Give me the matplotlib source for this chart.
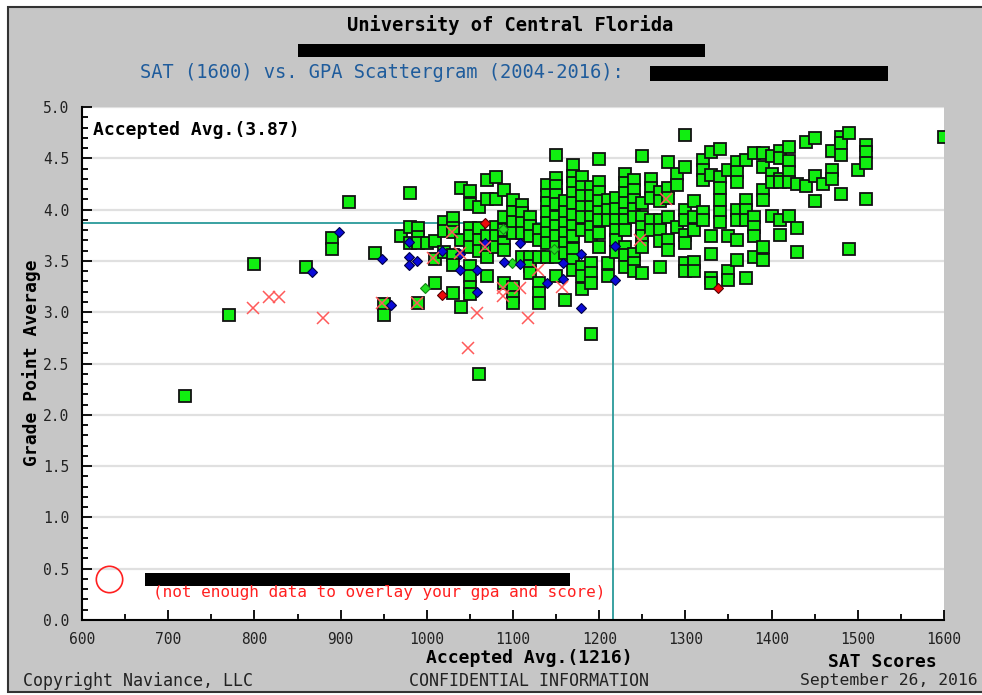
"""
Naviance-style SAT vs GPA scattergram, redrawn with matplotlib.
"""
import numpy as np
import matplotlib
matplotlib.use("Agg")
import matplotlib.pyplot as plt
from matplotlib.patches import Rectangle

MONO = "DejaVu Sans Mono"

# accepted averages
avg_sat = 1216
avg_gpa = 3.87

# green squares (accepted), GPA values per SAT column
green_by_sat = {
    720: [2.18], 770: [2.97], 800: [3.47], 860: [3.44], 890: [3.72, 3.62],
    910: [4.07], 940: [3.58], 950: [3.08, 2.97], 970: [3.74],
    980: [4.16, 3.83, 3.67], 990: [3.82, 3.73, 3.67, 3.09], 1000: [3.67],
    1010: [3.69, 3.52, 3.28], 1020: [3.88, 3.79, 3.59],
    1030: [3.92, 3.82, 3.78, 3.56, 3.46, 3.19], 1040: [4.21, 3.70, 3.05],
    1050: [4.18, 4.05, 3.82, 3.74, 3.64, 3.45, 3.35, 3.25, 3.18],
    1060: [4.03, 3.82, 3.70, 3.60, 2.40],
    1070: [4.29, 4.10, 3.74, 3.64, 3.54, 3.35],
    1080: [4.32, 4.10, 3.83, 3.74, 3.64],
    1090: [4.19, 3.93, 3.80, 3.67, 3.61, 3.28],
    1100: [4.09, 3.98, 3.88, 3.77, 3.25, 3.15, 3.09],
    1110: [4.04, 3.97, 3.87, 3.77, 3.54],
    1120: [3.93, 3.84, 3.74, 3.54, 3.45, 3.38],
    1130: [3.80, 3.70, 3.54, 3.28, 3.19, 3.09],
    1140: [4.24, 4.14, 4.06, 3.98, 3.87, 3.77, 3.67, 3.54],
    1150: [4.53, 4.31, 4.23, 4.14, 4.05, 3.93, 3.84, 3.74, 3.64, 3.54, 3.35],
    1160: [4.08, 3.98, 3.87, 3.77, 3.67, 3.58, 3.12],
    1170: [4.43, 4.33, 4.26, 4.16, 4.06, 3.95, 3.84, 3.74, 3.62, 3.51, 3.41],
    1180: [4.32, 4.22, 4.13, 4.03, 3.93, 3.80, 3.44, 3.35, 3.23],
    1190: [4.22, 4.13, 4.03, 3.93, 3.83, 3.74, 3.48, 3.38, 3.28, 2.79],
    1200: [4.49, 4.27, 4.17, 4.08, 3.98, 3.90, 3.77, 3.64],
    1210: [4.09, 4.00, 3.90, 3.48, 3.35],
    1220: [4.11, 4.01, 3.90, 3.80, 3.70, 3.59],
    1230: [4.35, 4.26, 4.16, 4.06, 3.96, 3.90, 3.80, 3.64, 3.56, 3.44],
    1240: [4.29, 4.19, 4.09, 4.01, 3.93, 3.57, 3.48, 3.40],
    1250: [4.52, 4.06, 3.93, 3.83, 3.74, 3.64, 3.38],
    1260: [4.30, 4.21, 4.11, 3.90, 3.80],
    1270: [4.17, 4.08, 3.90, 3.80, 3.69, 3.44],
    1280: [4.46, 4.21, 4.11, 3.93, 3.70, 3.61],
    1290: [4.35, 4.24, 3.83],
    1300: [4.73, 4.42, 4.00, 3.90, 3.75, 3.67, 3.48, 3.40],
    1310: [4.08, 3.93, 3.80, 3.49, 3.40],
    1320: [4.48, 4.39, 4.29, 3.98, 3.90],
    1330: [4.56, 4.34, 3.74, 3.57, 3.33, 3.28],
    1340: [4.59, 4.32, 4.21, 4.09, 3.98, 3.88],
    1350: [4.39, 3.74, 3.40, 3.31],
    1360: [4.46, 4.37, 4.27, 4.00, 3.90, 3.70, 3.51],
    1370: [4.48, 4.09, 4.00, 3.90, 3.33],
    1380: [4.55, 3.93, 3.83, 3.74, 3.54],
    1390: [4.55, 4.42, 4.19, 4.09, 3.64, 3.51],
    1400: [4.52, 4.35, 4.27, 3.94],
    1410: [4.57, 4.50, 4.30, 4.27, 3.90, 3.75],
    1420: [4.61, 4.47, 4.37, 4.27, 3.94],
    1430: [4.25, 3.82, 3.59], 1440: [4.66, 4.23], 1450: [4.70, 4.33, 4.08],
    1460: [4.25], 1470: [4.57, 4.39, 4.30], 1480: [4.71, 4.65, 4.53, 4.15],
    1490: [4.75, 3.62], 1500: [4.39], 1510: [4.63, 4.56, 4.45, 4.10],
    1600: [4.71],
}

# blue diamonds
blue_sat = [867, 898, 948, 958, 979, 979, 979, 989, 1018, 1039, 1039, 1058,
            1068, 1058, 1089, 1108, 1108, 1139, 1158, 1158, 1179, 1179, 1218, 1218]
blue_gpa = [3.39, 3.78, 3.52, 3.07, 3.68, 3.54, 3.46, 3.50, 3.60, 3.57, 3.41, 3.41,
            3.67, 3.20, 3.49, 3.67, 3.47, 3.28, 3.32, 3.48, 3.57, 3.04, 3.65, 3.31]

# green diamonds
gdiam_sat = [998, 1088, 1099, 1147]
gdiam_gpa = [3.24, 3.81, 3.48, 3.62]

# red diamonds
red_sat = [1018, 1068, 1338]
red_gpa = [3.17, 3.87, 3.24]

# red crosses
x_sat = [798, 817, 828, 880, 948, 989, 1007, 1029, 1038, 1048, 1058, 1068,
         1088, 1088, 1108, 1117, 1129, 1157, 1247, 1278]
x_gpa = [3.04, 3.15, 3.15, 2.94, 3.09, 3.09, 3.53, 3.78, 3.58, 2.65, 2.99, 3.64,
         3.24, 3.16, 3.24, 2.94, 3.41, 3.25, 3.70, 4.10]

green_sat = np.concatenate([[s] * len(g) for s, g in green_by_sat.items()])
green_gpa = np.concatenate(list(green_by_sat.values()))

W, H = 982, 695
fig = plt.figure(figsize=(W / 100, H / 100), dpi=100, facecolor="white")

# gray frame behind everything
fig.patches.append(Rectangle((8 / W, 3 / H), 1.0, (H - 10) / H, transform=fig.transFigure,
                             facecolor="#c6c6c6", edgecolor="#333333", linewidth=1.5,
                             zorder=-10))

ax = fig.add_axes([82 / W, 1 - 620 / H, 862 / W, 513 / H])
ax.set_facecolor("white")
ax.set_xlim(600, 1600)
ax.set_ylim(0, 5.0)

ax.set_xticks(np.arange(600, 1601, 100))
ax.set_xticks(np.arange(650, 1600, 100), minor=True)
ax.set_yticks(np.arange(0, 5.01, 0.5))
ax.set_yticks(np.arange(0, 5.01, 0.1), minor=True)
ax.set_yticklabels([f"{v:.1f}" for v in np.arange(0, 5.01, 0.5)])
ax.tick_params(axis="both", which="major", direction="in", length=7, width=1.3,
               labelsize=10.5, colors="black", pad=9)
ax.tick_params(axis="both", which="minor", direction="in", length=4, width=1.3)
for lab in ax.get_xticklabels() + ax.get_yticklabels():
    lab.set_fontfamily(MONO)
    lab.set_color("#222222")

for side in ["top", "right"]:
    ax.spines[side].set_visible(False)
for side in ["left", "bottom"]:
    ax.spines[side].set_linewidth(1.5)
    ax.spines[side].set_color("black")

ax.grid(axis="y", which="major", color="#e0e0e0", linewidth=1.6)
ax.set_axisbelow(True)

# average lines
ax.plot([600, avg_sat], [avg_gpa, avg_gpa], color="#2a9a9a", linewidth=1.3, zorder=2)
ax.plot([avg_sat, avg_sat], [0, avg_gpa], color="#2a9a9a", linewidth=1.3, zorder=2)

ax.plot(green_sat, green_gpa, "s", markersize=8.2, markerfacecolor="#11ee11",
        markeredgecolor="#111111", markeredgewidth=1.3, linestyle="none", zorder=3)
ax.plot(gdiam_sat, gdiam_gpa, "D", markersize=5.5, markerfacecolor="#22dd22",
        markeredgecolor="#118811", markeredgewidth=0.8, linestyle="none", zorder=4)
ax.plot(blue_sat, blue_gpa, "D", markersize=5.5, markerfacecolor="#0a0ad8",
        markeredgecolor="#000044", markeredgewidth=0.8, linestyle="none", zorder=4)
ax.plot(red_sat, red_gpa, "D", markersize=5.5, markerfacecolor="#ee0a0a",
        markeredgecolor="#550000", markeredgewidth=0.8, linestyle="none", zorder=4)
ax.plot(x_sat, x_gpa, "x", markersize=8.5, markeredgecolor="#ff5a5a",
        markeredgewidth=1.1, linestyle="none", zorder=5)

ax.text(11 / 862, (620 - 130) / 513, f"Accepted Avg.({avg_gpa:.2f})", transform=ax.transAxes,
        fontsize=13, fontweight="bold", family=MONO, va="center", ha="left")

# legend area (name redacted)
ax.plot([27 / 862], [(620 - 579) / 513], "o", markersize=19, markerfacecolor="none",
        markeredgecolor="#ff2020", markeredgewidth=1.2, transform=ax.transAxes,
        clip_on=False, zorder=6)
ax.add_patch(Rectangle((63 / 862, (620 - 586) / 513), 425 / 862, 13 / 513,
                       transform=ax.transAxes, facecolor="black", edgecolor="none", zorder=6))
ax.text(71 / 862, (620 - 592) / 513, "(not enough data to overlay your gpa and score)",
        transform=ax.transAxes, fontsize=11.5, family=MONO, color="#ff2020",
        va="center", ha="left", zorder=6)

# titles
fig.text(510 / W, 1 - 25 / H, "University of Central Florida", fontsize=13.5,
         fontweight="bold", family=MONO, ha="center", va="center")
fig.patches.append(Rectangle((298 / W, 1 - 57 / H), 407 / W, 13 / H, transform=fig.transFigure,
                             facecolor="black", edgecolor="none", zorder=3))
fig.text(140 / W, 1 - 73 / H, "SAT (1600) vs. GPA Scattergram (2004-2016):", fontsize=13.5,
         family=MONO, color="#1f5c9c", ha="left", va="center")
fig.patches.append(Rectangle((650 / W, 1 - 81 / H), 238 / W, 15 / H, transform=fig.transFigure,
                             facecolor="black", edgecolor="none", zorder=3))

fig.text(32 / W, 1 - 363 / H, "Grade Point Average", rotation=90, fontsize=13,
         fontweight="bold", family=MONO, ha="center", va="center")
fig.text(529 / W, 1 - 658 / H, f"Accepted Avg.({avg_sat})", fontsize=13,
         fontweight="bold", family=MONO, ha="center", va="center")
fig.text(882 / W, 1 - 662 / H, "SAT Scores", fontsize=13, fontweight="bold",
         family=MONO, ha="center", va="center")
fig.text(23 / W, 1 - 681 / H, "Copyright Naviance, LLC", fontsize=12, family=MONO,
         ha="left", va="center", color="#222222")
fig.text(529 / W, 1 - 681 / H, "CONFIDENTIAL INFORMATION", fontsize=12, family=MONO,
         ha="center", va="center", color="#222222")
fig.text(800 / W, 1 - 681 / H, "September 26, 2016", fontsize=11.8, family=MONO,
         ha="left", va="center", color="#222222")

fig.savefig("out.png", dpi=100, facecolor=fig.get_facecolor())
